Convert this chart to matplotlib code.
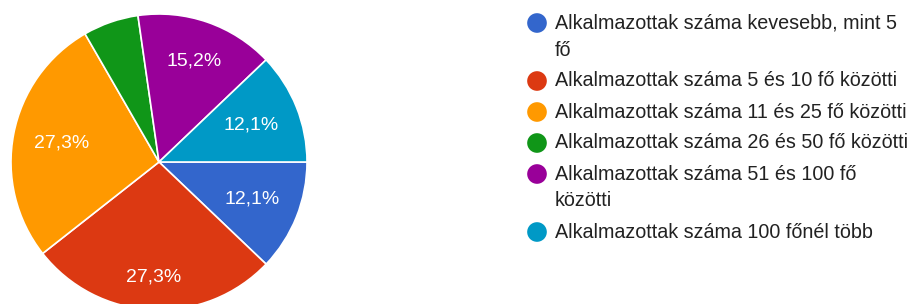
import numpy as np
import matplotlib
matplotlib.use('Agg')
import matplotlib.pyplot as plt

plt.rcParams['font.family'] = ['Liberation Sans', 'DejaVu Sans']

# data: number of answers per company-size category
categories = [
    'Alkalmazottak száma kevesebb, mint 5\nfő',
    'Alkalmazottak száma 5 és 10 fő közötti',
    'Alkalmazottak száma 11 és 25 fő közötti',
    'Alkalmazottak száma 26 és 50 fő közötti',
    'Alkalmazottak száma 51 és 100 fő\nközötti',
    'Alkalmazottak száma 100 főnél több',
]
counts = [4, 9, 9, 2, 5, 4]
colors = ['#3366cc', '#dc3912', '#ff9900', '#109618', '#990099', '#0099c6']
# radial position of each percentage label (None = no label)
label_r = [0.68, 0.78, 0.67, None, 0.72, 0.67]

W, H = 912, 304
fig = plt.figure(figsize=(W / 100, H / 100), dpi=100)

# pie: centre (159, 162) px, radius 148 px
cx, cy, r = 159, 162, 148
ax = fig.add_axes([(cx - r) / W, (H - cy - r) / H, 2 * r / W, 2 * r / H])
wedges, _ = ax.pie(counts, colors=colors, startangle=0, counterclock=False,
                   wedgeprops={'edgecolor': 'white', 'linewidth': 1.2})
ax.set_xlim(-1, 1)
ax.set_ylim(-1, 1)
ax.set_aspect('equal')
ax.axis('off')

total = sum(counts)
for w, c, lr in zip(wedges, counts, label_r):
    if lr is None:
        continue
    mid = np.deg2rad((w.theta1 + w.theta2) / 2)
    txt = f"{100 * c / total:.1f}%".replace('.', ',')
    ax.text(lr * np.cos(mid), lr * np.sin(mid), txt, ha='center', va='center',
            color='white', fontsize=14)

# legend, drawn by hand in pixel coordinates
lax = fig.add_axes([0, 0, 1, 1])
lax.set_xlim(0, W)
lax.set_ylim(H, 0)
lax.axis('off')
wrap_h, item_h = 27, 31
y = 23
for lab, col in zip(categories, colors):
    lax.scatter([537], [y], s=200, color=col, edgecolors='none')
    parts = lab.split('\n')
    for i, part in enumerate(parts):
        lax.text(555, y + i * wrap_h, part, ha='left', va='center',
                 color='#222222', fontsize=14.2)
    y += wrap_h * (len(parts) - 1) + item_h

fig.savefig('out.png', dpi=100)
